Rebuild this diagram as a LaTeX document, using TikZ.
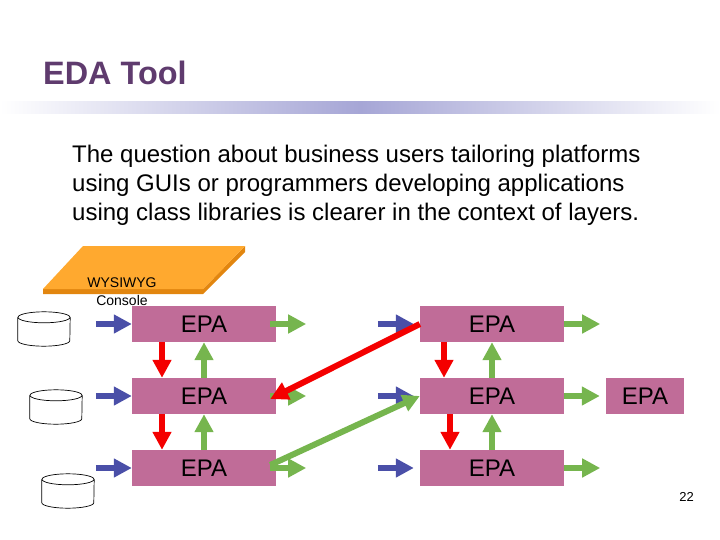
\documentclass[tikz,border=0pt]{standalone}
\usepackage{fontspec}
\setmainfont{Liberation Sans}
\usetikzlibrary{arrows.meta, positioning}
\definecolor{titlecol}{HTML}{5F3B6E}
\definecolor{barcol}{HTML}{A6A6D6}
\definecolor{boxcol}{HTML}{C06C98}
\definecolor{bluecol}{HTML}{4A4FA8}
\definecolor{greencol}{HTML}{76B54E}
\definecolor{redcol}{HTML}{F40000}
\definecolor{topcol}{HTML}{FFA92F}
\definecolor{sidecol}{HTML}{E2860F}
\newcommand{\dbstore}[2]{%
    \node [minimum width=52pt, minimum height=34pt, inner sep=0pt] at (#2) (#1) {};
    \draw [line width=0.7pt] ([yshift=-5.5pt]#1.north) ellipse [x radius=26pt, y radius=5.5pt];
    \draw [line width=0.7pt] ([yshift=-5.5pt]#1.north west) -- ([yshift=5.5pt]#1.south west)
        arc [start angle=180, end angle=360, x radius=26pt, y radius=5.5pt] -- ([yshift=-5.5pt]#1.north east);
}

\begin{document}
\begin{tikzpicture}[x=1pt,y=-1pt]
        \tikzstyle{block} = [fill=boxcol, shape=rectangle, minimum height=36pt,
        minimum width=144pt, inner sep=0pt, node distance=72pt,
        font=\fontsize{24}{24}\selectfont]
        \tikzstyle{small} = [inner sep=0pt, font=\fontsize{14}{14}\selectfont]
        \tikzstyle{stub} = [line width=6pt, -{Triangle[length=18pt,width=18pt]}]
        \useasboundingbox (0,0) rectangle (720,540);

        %Creating Title and Text
        \shade[left color=white, right color=white, middle color=barcol] (0,102) rectangle (720,114);
        \node [anchor=base west, inner sep=0pt, text=titlecol, font=\fontsize{32.4}{32.4}\selectfont\bfseries] at (43,85) (title) {EDA Tool};
        \node [anchor=north west, inner sep=0pt, align=left, font=\fontsize{24}{29}\selectfont] at (72,145) (question) {The question about business users tailoring platforms\\using GUIs or programmers developing applications\\using class libraries is clearer in the context of layers.};

        %Creating Console
        \fill[sidecol] (43,289) -- (203,289) -- (245,246) -- (245,252) -- (203,294) -- (43,294) -- cycle;
        \fill[topcol] (83,246) -- (245,246) -- (203,289) -- (43,289) -- cycle;
        \node [small] at (122,283) (wysiwyg) {WYSIWYG};
        \node [small] at (122,300) (console) {Console};

        %Creating Blocks
        \node [block] at (204,324) (epa_a) {EPA};
        \node [block, below of=epa_a] (epa_b) {EPA};
        \node [block, below of=epa_b] (epa_c) {EPA};
        \node [block] at (492,324) (epa_d) {EPA};
        \node [block, below of=epa_d] (epa_e) {EPA};
        \node [block, below of=epa_e] (epa_f) {EPA};
        \node [block, minimum width=78pt] at (645,396) (epa_g) {EPA};

        %Creating Sources
        \dbstore{db_a}{44,329}
        \dbstore{db_b}{56,407}
        \dbstore{db_c}{68,491}

        \node [inner sep=0pt, anchor=east, font=\fontsize{13}{13}\selectfont] at (694,497) (page) {22};

        %Connecting Blocks
        \begin{scope}[stub, color=bluecol]
            \draw ([xshift=-36pt]epa_a.west) -- (epa_a.west);
            \draw ([xshift=-36pt]epa_b.west) -- (epa_b.west);
            \draw ([xshift=-36pt]epa_c.west) -- (epa_c.west);
            \draw ([xshift=-42pt]epa_d.west) -- ([xshift=-6pt]epa_d.west);
            \draw ([xshift=-42pt]epa_e.west) -- ([xshift=-6pt]epa_e.west);
            \draw ([xshift=-42pt]epa_f.west) -- ([xshift=-6pt]epa_f.west);
        \end{scope}
        \begin{scope}[stub, color=greencol]
            \draw ([xshift=-6pt]epa_a.east) -- ([xshift=30pt]epa_a.east);
            \draw ([xshift=-6pt]epa_b.east) -- ([xshift=30pt]epa_b.east);
            \draw ([xshift=-6pt]epa_c.east) -- ([xshift=30pt]epa_c.east);
            \draw (epa_d.east) -- ([xshift=36pt]epa_d.east);
            \draw (epa_e.east) -- ([xshift=-6pt]epa_g.west);
            \draw (epa_f.east) -- ([xshift=36pt]epa_f.east);
            \draw (epa_b.north) -- (epa_a.south);
            \draw (epa_c.north) -- (epa_b.south);
            \draw (epa_e.north) -- (epa_d.south);
            \draw (epa_f.north) -- (epa_e.south);
        \end{scope}
        \begin{scope}[stub, color=redcol]
            \draw ([xshift=-42pt]epa_a.south) -- ([xshift=-42pt]epa_b.north);
            \draw ([xshift=-42pt]epa_b.south) -- ([xshift=-42pt]epa_c.north);
            \draw ([xshift=-48pt]epa_d.south) -- ([xshift=-48pt]epa_e.north);
            \draw ([xshift=-42pt]epa_e.south) -- ([xshift=-42pt]epa_f.north);
        \end{scope}
        \draw[line width=6pt, redcol, -{Triangle[length=18pt,width=18pt]}] (epa_d.west) -- ([xshift=-6pt,yshift=-3pt]epa_b.east);
        \draw[line width=6pt, greencol, -{Triangle[length=17pt,width=17pt]}] ([xshift=-6pt,yshift=3pt]epa_c.east) -- (epa_e.west);
    \end{tikzpicture}
\end{document}
